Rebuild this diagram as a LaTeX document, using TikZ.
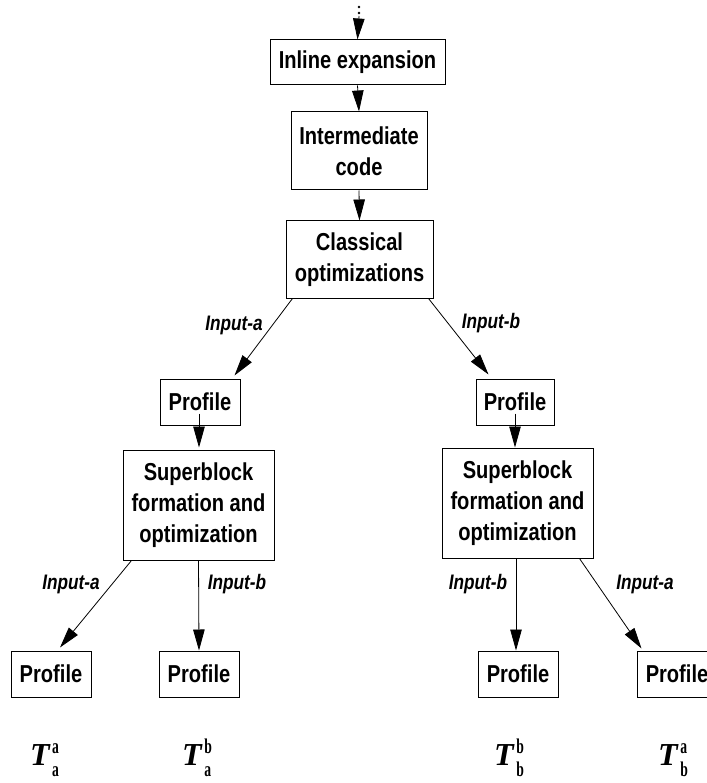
\documentclass[tikz,border=0pt]{standalone}
\usepackage{fontspec}
\usetikzlibrary{arrows.meta,calc}
\newfontfamily\boxfont[FakeStretch=0.82]{Liberation Sans}
\newfontfamily\tfont{Liberation Serif}
\newfontfamily\idxfont[FakeStretch=0.65]{Liberation Serif}
% T with subscript #1 and superscript #2
\newcommand\tvar[2]{{\tfont\bfseries\itshape\fontsize{32}{32}\selectfont T}\kern2.5pt{\idxfont\bfseries\fontsize{21}{21}\selectfont\rlap{\raisebox{12pt}{#2}}\raisebox{-11pt}{#1}}}
\begin{document}
\begin{tikzpicture}[x=1pt,y=-1pt,
  box/.style={draw,line width=1pt,inner sep=0pt,align=center,
    font=\boxfont\bfseries\fontsize{24.5}{31}\selectfont},
  prof/.style={box,minimum width=80pt,minimum height=46pt},
  sblock/.style={box,minimum width=151pt,minimum height=110pt},
  lab/.style={inner sep=0pt,font=\boxfont\bfseries\itshape\fontsize{21}{21}\selectfont},
  tlab/.style={inner sep=0pt,anchor=base west},
  flow/.style={line width=0.8pt,-{Triangle[length=21pt,width=11.5pt]}}]
\useasboundingbox (0,0) rectangle (706,783);

% continuation dots above the first stage
\fill (359,7) circle (1.3pt) (359,13) circle (1.3pt);
\coordinate (start) at (359,16);

% main compilation chain
\node[box,minimum width=175pt,minimum height=45pt] (inl) at (357.5,62.5) {Inline expansion};
\node[box,minimum width=136pt,minimum height=78pt] (imc) at (359,151) {Intermediate\\code};
\node[box,minimum width=147pt,minimum height=77pt] (cls) at (359.5,259.5) {Classical\\optimizations};

% first profiling level
\node[prof] (pa) at (200,402) {Profile};
\node[prof,minimum width=78pt] (pb) at (515,402) {Profile};

% superblock stages
\node[sblock] (sa) at (198.5,505) {Superblock\\formation and\\optimization};
\node[sblock] (sb) at (517.5,503) {Superblock\\formation and\\optimization};

% second profiling level
\node[prof] (paa) at (51,674) {Profile};
\node[prof] (pab) at (199,674) {Profile};
\node[prof] (pbb) at (518,674) {Profile};
\node[prof] (pba) at (677,674) {Profile};

% resulting times
\node[tlab] (taa) at (30,765) {\tvar{a}{a}};
\node[tlab] (tab) at (182,765) {\tvar{a}{b}};
\node[tlab] (tbb) at (494,765) {\tvar{b}{b}};
\node[tlab] (tba) at (658,765) {\tvar{b}{a}};

% connectors
\draw[flow] (start) -- (inl.north);
\draw[flow] (inl.south) -- (imc.north);
\draw[flow] (imc.south) -- (cls.north);
\draw[flow] ($(cls.south west)+(7,0)$) -- ($(pa.north east)+(-6,-3)$);
\draw[flow] ($(cls.south east)+(-5,0)$) -- ($(pb.north west)+(13,-4)$);
\draw[flow] ($(pa.south)+(-1,-12)$) -- ($(sa.north)+(0.5,-2)$);
\draw[flow] ($(pb.south)+(0,-12)$) -- ($(sb.north)+(-2.5,0)$);
\draw[flow] ($(sa.south west)+(9,0)$) -- ($(paa.north)+(9,-3)$);
\draw[flow] (sa.south) -- (pab.north);
\draw[flow] ($(sb.south)+(-1.5,0)$) -- ($(pbb.north)+(-2,0)$);
\draw[flow] ($(sb.south east)+(-14,0)$) -- ($(pba.north west)+(5,-2)$);

% input labels
\node[lab] (la1) at (234,325) {Input-a};
\node[lab] (lb1) at (491,323) {Input-b};
\node[lab] (la2) at (71,584) {Input-a};
\node[lab] (lb2) at (237,584) {Input-b};
\node[lab] (lb3) at (478,584) {Input-b};
\node[lab] (la3) at (645,584) {Input-a};
\end{tikzpicture}
\end{document}
